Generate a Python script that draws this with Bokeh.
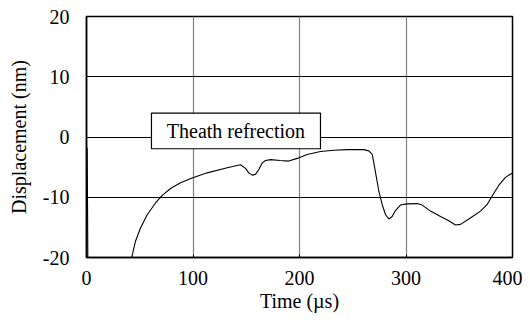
from bokeh.plotting import figure
from bokeh.models import Range1d, FixedTicker
from bokeh.core.properties import value
from bokeh.embed import file_html
from bokeh.resources import INLINE

# Data
time_us = [0.6, 1.0, 1.4, 42.3, 46.0, 50.7, 57.0, 64.8, 71.1, 78.9, 88.3, 99.2,
           113.3, 132.1, 144.6, 149.3, 152.4, 155.6, 158.7, 161.8, 165.0,
           168.1, 172.8, 182.0, 189.9, 197.8, 207.2, 219.7, 232.2, 244.8, 260.4,
           265.1, 268.3, 269.8, 272.3, 274.5, 277.6, 280.8, 283.9, 287.0, 290.1,
           294.8, 301.1, 310.5, 315.2, 323.0, 332.4, 340.2, 346.5, 351.2, 359.0,
           370.0, 376.2, 380.9, 387.2, 393.4, 400.0]
disp_nm = [-1.8, -12, -25, -20.1, -17.3, -15.1, -12.9, -10.95, -9.7, -8.55, -7.6, -6.8,
           -5.95, -5.1, -4.6, -5.2, -5.95, -6.33, -6.2, -5.4, -4.3,
           -3.9, -3.75, -3.9, -4.0, -3.55, -2.9, -2.4, -2.2, -2.1, -2.1,
           -2.3, -2.9, -4.3, -6.8, -9.0, -11.2, -12.9, -13.6, -13.2, -12.2,
           -11.3, -11.1, -11.05, -11.3, -12.3, -13.2, -13.9, -14.6, -14.5, -13.6,
           -12.3, -11.2, -9.8, -8.0, -6.7, -5.95]
x_ticks = [0, 100, 200, 300, 400]
y_ticks = [-20, -10, 0, 10, 20]
y_tick_labels = {-20: "-20", -10: "-10", 0: "0", 10: "10", 20: "20"}
annotation_text = "Theath refrection"
annotation_box = dict(left=61.0, right=219.7, bottom=-1.95, top=3.95)

FONT = "Liberation Serif"

p = figure(width=522, height=321, output_backend="svg", toolbar_location=None,
           x_range=Range1d(0, 400), y_range=Range1d(-20, 20),
           min_border_left=86, min_border_right=10, min_border_top=16, min_border_bottom=64)

p.line(time_us, disp_nm, line_color="black", line_width=1.1)

p.outline_line_color = "black"
p.outline_line_width = 1.5

p.xgrid.grid_line_color = "#808080"
p.xgrid.grid_line_width = 1.2
p.ygrid.grid_line_color = "black"
p.ygrid.grid_line_width = 1.2

for ax in (p.xaxis[0], p.yaxis[0]):
    ax.axis_line_color = "black"
    ax.axis_line_width = 1.5
    ax.major_tick_out = 0
    ax.major_tick_in = 3
    ax.minor_tick_line_color = None
    ax.major_label_text_font = FONT
    ax.major_label_text_font_size = "20px"
    ax.major_label_text_color = "black"
    ax.axis_label_text_font = FONT
    ax.axis_label_text_font_size = "20px"
    ax.axis_label_text_font_style = "normal"
    ax.axis_label_text_color = "black"

p.xaxis.ticker = FixedTicker(ticks=x_ticks)
p.yaxis.ticker = FixedTicker(ticks=y_ticks)
p.yaxis.major_label_overrides = y_tick_labels
p.xaxis.major_label_standoff = 13
p.yaxis.major_label_standoff = 17
p.xaxis.axis_label = "Time (\u00b5s)"
p.yaxis.axis_label = "Displacement (nm)"
p.xaxis.axis_label_standoff = 2
p.yaxis.axis_label_standoff = 10

p.quad(left=[annotation_box["left"]], right=[annotation_box["right"]],
       bottom=[annotation_box["bottom"]], top=[annotation_box["top"]],
       fill_color="white", line_color="black", line_width=1.2)
p.text(x=[(annotation_box["left"] + annotation_box["right"]) / 2],
       y=[(annotation_box["bottom"] + annotation_box["top"]) / 2],
       text=[annotation_text], text_font=value(FONT), text_font_size="20px",
       text_color="black", text_align="center", text_baseline="middle")

open("out.html", "w").write(file_html(p, INLINE))
